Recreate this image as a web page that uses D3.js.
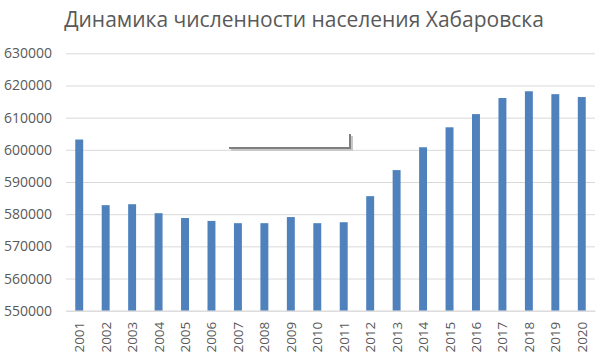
<!DOCTYPE html>
<html><head><meta charset="utf-8">
<script src="https://cdn.jsdelivr.net/npm/d3@7"></script>
<style>body{margin:0;background:#fff}svg{display:block}</style>
</head><body>
<script>
const years = ["2001","2002","2003","2004","2005","2006","2007","2008","2009","2010","2011","2012","2013","2014","2015","2016","2017","2018","2019","2020"];
const population = [603200,582800,583100,580300,578800,577900,577200,577200,579100,577200,577500,585600,593700,600800,607000,611100,616100,618200,617300,616400];
const yTicks = [550000,560000,570000,580000,590000,600000,610000,620000,630000];
const title = "Динамика численности населения Хабаровска";

const W = 606, H = 361;
const svg = d3.select("body").append("svg").attr("width", W).attr("height", H);
const mLeft = 66, mRight = 595, mTop = 53.3, mBottom = 310.7;

const x = d3.scaleBand().domain(years).range([mLeft, mRight]).paddingInner(0.7).paddingOuter(0.35);
const y = d3.scaleLinear().domain([550000, 630000]).range([mBottom, mTop]);

const font = "Open Sans, Noto Sans, sans-serif";

svg.append("text").attr("x", 304).attr("y", 27).attr("text-anchor", "middle")
  .attr("font-family", font).attr("font-size", 21).attr("fill", "#595959").text(title);

// gridlines
const gy = svg.append("g").attr("transform", `translate(${mLeft},0)`)
  .call(d3.axisLeft(y).tickValues(yTicks).tickSize(-(mRight-mLeft)).tickFormat(d => d).tickPadding(14));
gy.select(".domain").remove();
gy.selectAll(".tick line").attr("stroke", "#d9d9d9").attr("stroke-width", 1);
gy.selectAll(".tick text").attr("font-family", font).attr("font-size", 14).attr("fill", "#595959");

// bars
svg.append("g").selectAll("rect").data(population).join("rect")
  .attr("x", (d, i) => x(years[i])).attr("width", x.bandwidth())
  .attr("y", d => y(d)).attr("height", d => y(550000) - y(d))
  .attr("fill", "#4f81bd");

// x axis
const gx = svg.append("g").attr("transform", `translate(0,${mBottom})`)
  .call(d3.axisBottom(x).tickSize(0).tickPadding(0));
gx.select(".domain").attr("stroke", "#d9d9d9");
gx.selectAll(".tick text").attr("font-family", font).attr("font-size", 13.5).attr("fill", "#595959")
  .attr("text-anchor", "end").attr("transform", "translate(5,11) rotate(-90)").attr("dy", 0).attr("y", 0);

// stray shape (bracket with shadow)
const shp = svg.append("g");
shp.append("path").attr("d", "M231,150 L352,150 L352,136").attr("fill", "none").attr("stroke", "#c8c8c8").attr("stroke-width", 2);
shp.append("path").attr("d", "M229,148 L350,148 L350,134").attr("fill", "none").attr("stroke", "#7f7f7f").attr("stroke-width", 2);
</script>
</body></html>
